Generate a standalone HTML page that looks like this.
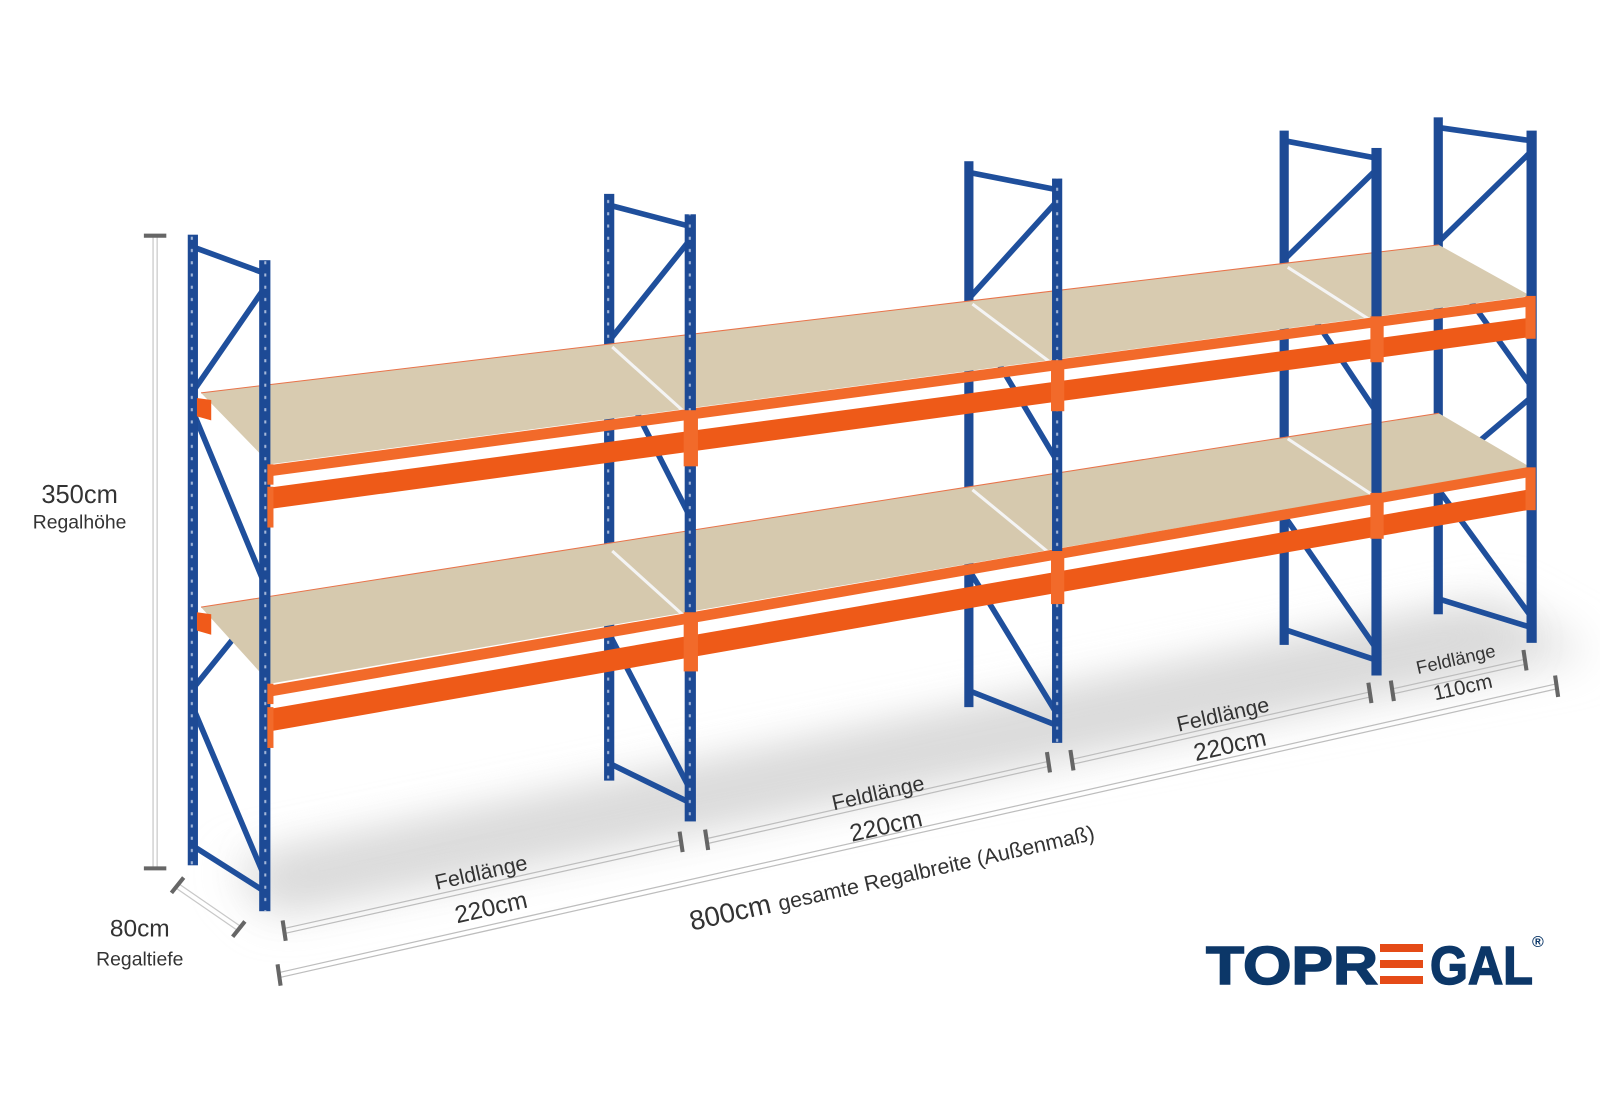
<!DOCTYPE html>
<html><head><meta charset="utf-8"><style>
html,body{margin:0;padding:0;background:#fff;}
svg{display:block;}
text{font-family:"Liberation Sans",sans-serif;}
</style></head><body>
<svg width="1600" height="1100" viewBox="0 0 1600 1100" xmlns="http://www.w3.org/2000/svg">
<defs>
<filter id="blur" x="-20%" y="-50%" width="140%" height="200%"><feGaussianBlur stdDeviation="22"/></filter>
<pattern id="holes" width="8" height="12" patternUnits="userSpaceOnUse"><rect x="3" y="4" width="2" height="3" fill="#c8d4ea"/></pattern>
</defs>
<g transform="scale(1.0204)">
<!-- floor shadow -->
<polygon points="225,850 268,895 1560,640 1470,590" fill="#dcdcdc" filter="url(#blur)"/>
<polygon points="250,845 272,880 1500,630 1440,600" fill="#d6d6d6" filter="url(#blur)" opacity=".7"/>

<!-- bracing (behind) -->
<g stroke="#1f4f9c" stroke-width="5.5" stroke-linecap="round">
<line x1="189" y1="242" x2="260" y2="268"/><line x1="260" y1="281" x2="189" y2="384"/><line x1="189" y1="403" x2="260" y2="574"/><line x1="260" y1="587" x2="189" y2="675"/><line x1="189" y1="693" x2="260" y2="861"/><line x1="189" y1="829" x2="260" y2="874"/>
<line x1="597" y1="201" x2="677" y2="222"/><line x1="677" y1="234" x2="597" y2="334"/><line x1="597" y1="351" x2="677" y2="508"/><line x1="677" y1="519" x2="597" y2="604"/><line x1="597" y1="621" x2="677" y2="775"/><line x1="597" y1="748" x2="677" y2="787"/>
<line x1="950" y1="169" x2="1036" y2="186"/><line x1="1036" y1="197" x2="950" y2="292"/><line x1="950" y1="308" x2="1036" y2="452"/><line x1="1036" y1="463" x2="950" y2="543"/><line x1="950" y1="559" x2="1036" y2="700"/><line x1="950" y1="677" x2="1036" y2="711"/>
<line x1="1259" y1="138" x2="1349" y2="155"/><line x1="1349" y1="166" x2="1259" y2="254"/><line x1="1259" y1="269" x2="1349" y2="404"/><line x1="1349" y1="414" x2="1259" y2="491"/><line x1="1259" y1="506" x2="1349" y2="636"/><line x1="1259" y1="617" x2="1349" y2="647"/>
<line x1="1410" y1="125" x2="1501" y2="138"/><line x1="1501" y1="148" x2="1410" y2="237"/><line x1="1410" y1="251" x2="1501" y2="379"/><line x1="1501" y1="389" x2="1410" y2="466"/><line x1="1410" y1="480" x2="1501" y2="605"/><line x1="1410" y1="587" x2="1501" y2="615"/>
</g>
<!-- back posts -->
<g fill="#1d4a95">
<rect x="184" y="230" width="10" height="618"/><rect x="592" y="190" width="10" height="575"/><rect x="945" y="158" width="9" height="535"/><rect x="1254" y="128" width="9" height="504"/><rect x="1405" y="115" width="9" height="487"/>
</g>
<g fill="url(#holes)" opacity=".8">
<rect x="185" y="230" width="8" height="618"/><rect x="593" y="190" width="8" height="575"/>
</g>
<!-- shelf decks -->
<polygon points="197,385 265,455 1500,290 1410,240" fill="#d8cbb0"/>
<polygon points="197,595 265,670 1500,458 1410,405" fill="#d6c9ae"/>
<line x1="197" y1="385" x2="1410" y2="240" stroke="#e8734a" stroke-width="1"/>
<line x1="197" y1="595" x2="1410" y2="405" stroke="#e8734a" stroke-width="1"/>
<g stroke="#f4f4f4" stroke-width="3">
<line x1="600" y1="340" x2="672" y2="405"/><line x1="953" y1="298" x2="1032" y2="357"/><line x1="1262" y1="262" x2="1345" y2="315"/>
<line x1="600" y1="540" x2="672" y2="605"/><line x1="953" y1="480" x2="1032" y2="545"/><line x1="1262" y1="430" x2="1345" y2="485"/>
</g>
<polygon points="193,390 207,392 207,412 193,408" fill="#f05a1a"/>
<polygon points="193,600 207,602 207,622 193,618" fill="#f05a1a"/>
<!-- beams upper -->
<polygon points="263,456 1502,290 1502,300 263,467" fill="#f26a2a"/>
<polygon points="263,478 1502,311 1502,330 263,499" fill="#ee5a18"/>
<!-- beams lower -->
<polygon points="263,672 1502,457 1502,467 263,683" fill="#f26a2a"/>
<polygon points="263,695 1502,479 1502,499 263,717" fill="#ee5a18"/>
<!-- front posts -->
<g fill="#1d4a95">
<rect x="254" y="255" width="11" height="638"/><rect x="671" y="210" width="11" height="595"/><rect x="1031" y="175" width="10" height="553"/><rect x="1344" y="145" width="10" height="517"/><rect x="1496" y="128" width="10" height="502"/>
</g>
<g fill="url(#holes)" opacity=".8">
<rect x="256" y="255" width="8" height="638"/><rect x="673" y="210" width="8" height="595"/><rect x="1032" y="175" width="8" height="553"/>
</g>
<g fill="#f26a2a">
<rect x="262" y="455" width="6" height="20"/><rect x="262" y="477" width="6" height="40"/><rect x="262" y="670" width="6" height="20"/><rect x="262" y="693" width="6" height="40"/>
<rect x="670" y="402" width="14" height="55"/><rect x="670" y="600" width="14" height="58"/>
<rect x="1030" y="353" width="13" height="50"/><rect x="1030" y="540" width="13" height="52"/>
<rect x="1343" y="310" width="13" height="45"/><rect x="1343" y="483" width="13" height="45"/>
<rect x="1495" y="290" width="10" height="42"/><rect x="1495" y="458" width="10" height="42"/>
</g>

<g stroke="#c8c8c8" stroke-width="1.2"><line x1="150" y1="232" x2="150" y2="850"/><line x1="154" y1="232" x2="154" y2="850"/></g>
<g stroke="#666" stroke-width="4"><line x1="141" y1="231" x2="163" y2="231"/><line x1="141" y1="851" x2="163" y2="851"/></g>
<text x="78" y="493" font-size="25" fill="#333" text-anchor="middle">350cm</text>
<text x="78" y="518" font-size="19" fill="#333" text-anchor="middle">Regalhöhe</text>
<g stroke="#c8c8c8" stroke-width="1.2"><line x1="172" y1="870" x2="233" y2="912"/><line x1="175" y1="866" x2="236" y2="908"/></g>
<g stroke="#666" stroke-width="4"><line x1="168" y1="875" x2="180" y2="860"/><line x1="228" y1="918" x2="240" y2="903"/></g>
<text x="137" y="918" font-size="24" fill="#333" text-anchor="middle">80cm</text>
<text x="137" y="946" font-size="19" fill="#333" text-anchor="middle">Regaltiefe</text>

<g stroke="#bdbdbd" stroke-width="1.2" fill="none">
<line x1="274" y1="953" x2="1526" y2="670"/><line x1="274" y1="958" x2="1526" y2="675"/>
<line x1="278" y1="910" x2="668" y2="823"/><line x1="278" y1="915" x2="668" y2="828"/>
<line x1="692" y1="822" x2="1028" y2="746"/><line x1="692" y1="827" x2="1028" y2="751"/>
<line x1="1051" y1="744" x2="1343" y2="678"/><line x1="1051" y1="749" x2="1343" y2="683"/>
<line x1="1365" y1="675" x2="1495" y2="646"/><line x1="1365" y1="680" x2="1495" y2="651"/>
</g>
<g stroke="#666" stroke-width="4">
<line x1="272" y1="945" x2="275" y2="966"/><line x1="1524" y1="662" x2="1527" y2="683"/>
<line x1="277" y1="902" x2="280" y2="922"/><line x1="666" y1="815" x2="669" y2="835"/>
<line x1="691" y1="813" x2="694" y2="833"/><line x1="1026" y1="737" x2="1029" y2="757"/>
<line x1="1049" y1="735" x2="1052" y2="755"/><line x1="1341" y1="669" x2="1344" y2="689"/>
<line x1="1363" y1="667" x2="1366" y2="687"/><line x1="1493" y1="637" x2="1496" y2="657"/>
</g>
<g fill="#333">
<text transform="translate(473,862) rotate(-12.7)" font-size="21" text-anchor="middle">Feldlänge</text>
<text transform="translate(483,897) rotate(-12.7)" font-size="24" text-anchor="middle">220cm</text>
<text transform="translate(862,784) rotate(-12.7)" font-size="21" text-anchor="middle">Feldlänge</text>
<text transform="translate(870,817) rotate(-12.7)" font-size="24" text-anchor="middle">220cm</text>
<text transform="translate(1200,707) rotate(-12.7)" font-size="21" text-anchor="middle">Feldlänge</text>
<text transform="translate(1207,738) rotate(-12.7)" font-size="24" text-anchor="middle">220cm</text>
<text transform="translate(1428,652) rotate(-12.7)" font-size="18" text-anchor="middle">Feldlänge</text>
<text transform="translate(1435,680) rotate(-12.7)" font-size="20" text-anchor="middle">110cm</text>
<text transform="translate(678,912) rotate(-12.7)" font-size="27">800cm <tspan font-size="21">gesamte Regalbreite (Außenmaß)</tspan></text>
</g>
</g>
<g fill="#0c3768" font-weight="bold" font-size="54" stroke="#0c3768" stroke-width="1.5">
<text x="1206" y="984" textLength="172" lengthAdjust="spacingAndGlyphs">TOPR</text>
<text x="1430" y="984" textLength="103" lengthAdjust="spacingAndGlyphs">GAL</text>
</g>
<text x="1532" y="947" font-size="16" fill="#0c3768" font-weight="bold">®</text>
<g fill="#e54b17"><rect x="1380" y="944" width="43" height="8"/><rect x="1380" y="960" width="43" height="8"/><rect x="1380" y="976" width="43" height="8"/></g>
</svg>
</body></html>
